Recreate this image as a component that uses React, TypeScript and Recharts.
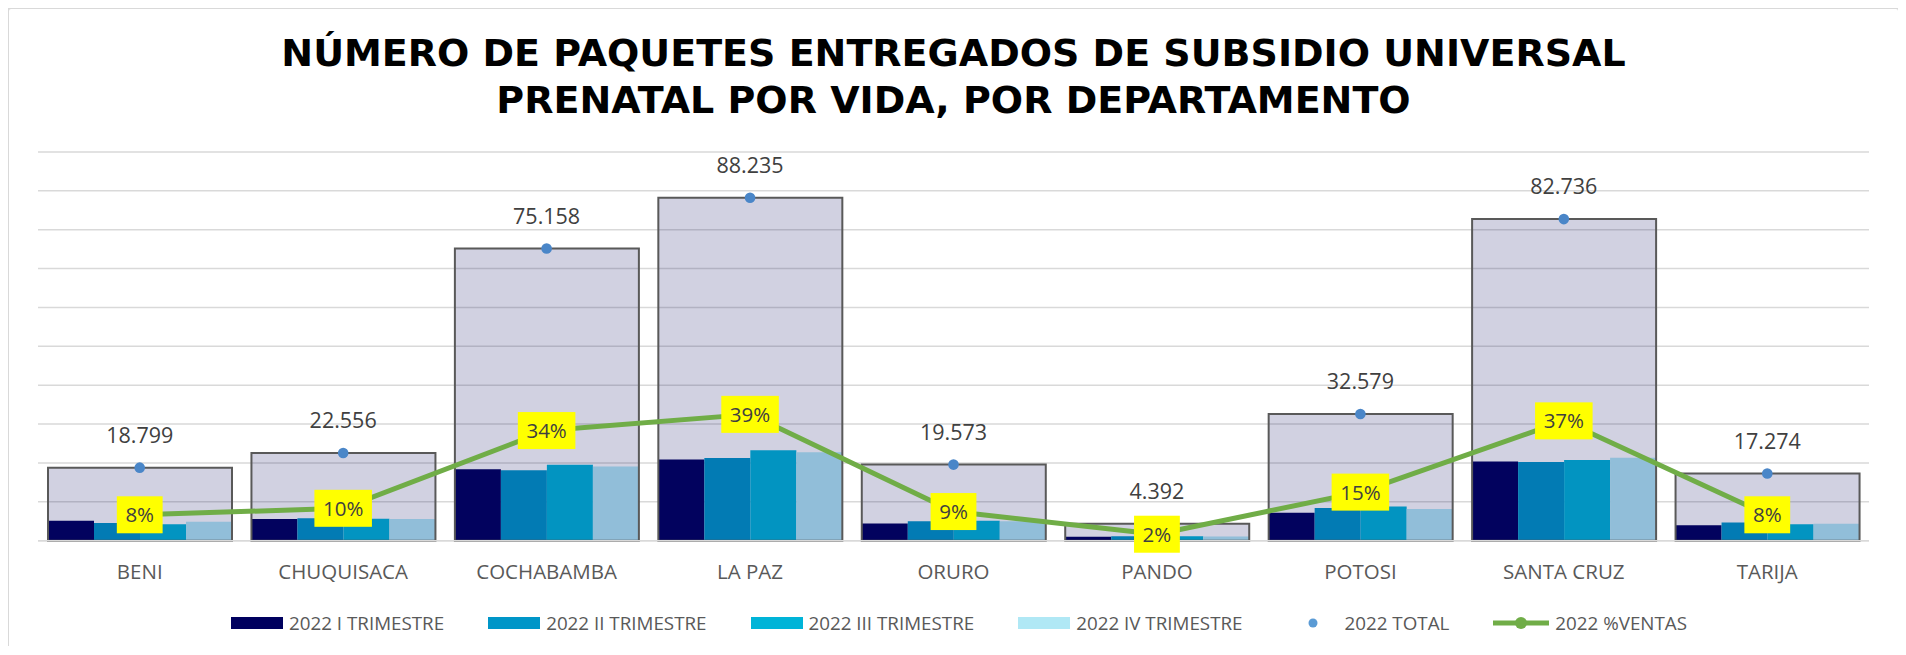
import { Bar, CartesianGrid, ComposedChart, LabelList, Line, XAxis, YAxis } from "recharts";

// departamentos y valores
const departments = ["BENI", "CHUQUISACA", "COCHABAMBA", "LA PAZ", "ORURO", "PANDO", "POTOSI", "SANTA CRUZ", "TARIJA"];
const q1 = [5150, 5600, 18400, 20900, 4400, 1000, 7200, 20400, 4000];
const q2 = [4550, 5750, 18100, 21250, 5000, 1150, 8400, 20250, 4700];
const q3 = [4200, 5650, 19550, 23300, 5150, 1150, 8800, 20750, 4200];
const q4 = [4899, 5556, 19108, 22785, 5023, 1092, 8179, 21336, 4374];
const totals = [18799, 22556, 75158, 88235, 19573, 4392, 32579, 82736, 17274];
const shares = [0.08, 0.1, 0.34, 0.39, 0.09, 0.02, 0.15, 0.37, 0.08];
const yTicks = [0, 10000, 20000, 30000, 40000, 50000, 60000, 70000, 80000, 90000, 100000];

const QCOLORS = ["#00005e", "#0096c8", "#00b4d8", "#b0e8f5"];
const QNAMES = ["2022 I TRIMESTRE", "2022 II TRIMESTRE", "2022 III TRIMESTRE", "2022 IV TRIMESTRE"];
const DOT = "#4a86c8";
const GREEN = "#70ad47";
const FONT = "'Open Sans', sans-serif";

const data = departments.map((name, i) => ({
  name, q1: q1[i], q2: q2[i], q3: q3[i], q4: q4[i], total: totals[i], share: shares[i],
}));

const fmtThousands = (v: number) => String(v).replace(/\B(?=(\d{3})+(?!\d))/g, ".");

function TotalLabel(p: any) {
  return (
    <text x={p.x} y={p.y - 25} textAnchor="middle" fill="#404040" fontSize={21.5} fontFamily={FONT}>
      {fmtThousands(p.value)}
    </text>
  );
}

function ShareLabel(p: any) {
  const txt = `${Math.round(p.value * 100)}%`;
  const fs = 20.5;
  const tw = txt.replace("%", "").length * 0.572 * fs + 0.833 * fs;
  const w = tw + 17, h = 37;
  return (
    <g>
      <rect x={p.x - w / 2} y={p.y - h / 2} width={w} height={h} fill="#ffff00" />
      <text x={p.x} y={p.y + 7.5} textAnchor="middle" fill="#404040" fontSize={fs} fontFamily={FONT}>{txt}</text>
    </g>
  );
}

function LegendRow() {
  const text = { fontFamily: FONT, fontSize: 18.8, color: "#595959", marginLeft: 6, marginRight: 44, whiteSpace: "nowrap" as const };
  return (
    <div style={{ position: "absolute", left: 224, top: 603, height: 26, display: "flex", alignItems: "center" }}>
      {QNAMES.map((n, i) => (
        <div key={n} style={{ display: "flex", alignItems: "center" }}>
          <div style={{ width: 52, height: 12, background: QCOLORS[i] }} />
          <span style={text}>{n}</span>
        </div>
      ))}
      <div style={{ display: "flex", alignItems: "center" }}>
        <svg width={52} height={12}><circle cx={26} cy={6} r={4.5} fill="#5b9bd5" /></svg>
        <span style={text}>2022 TOTAL</span>
      </div>
      <div style={{ display: "flex", alignItems: "center" }}>
        <svg width={56} height={14}>
          <line x1={0} y1={7} x2={56} y2={7} stroke={GREEN} strokeWidth={5} />
          <circle cx={28} cy={7} r={6} fill={GREEN} />
        </svg>
        <span style={text}>2022 %VENTAS</span>
      </div>
    </div>
  );
}

export default function App() {
  return (
    <div style={{ position: "relative", width: 1893, height: 639, margin: "-1px 0 0 -1px", overflow: "hidden", background: "#fff" }}>
      <div style={{ position: "absolute", left: 0, top: 0, width: 1893, height: 700, boxSizing: "border-box", border: "2px solid #d9d9d9", borderRadius: 4 }} />
      <div style={{
        position: "absolute", left: 0, top: 23, width: 1893, textAlign: "center",
        fontFamily: "'DejaVu Sans', Verdana, sans-serif", fontWeight: 700, fontSize: 38, lineHeight: "46.7px", color: "#000",
      }}>
        NÚMERO DE PAQUETES ENTREGADOS DE SUBSIDIO UNIVERSAL<br />PRENATAL POR VIDA, POR DEPARTAMENTO
      </div>
      <div style={{ position: "absolute", left: 0, top: 0 }}>
        <ComposedChart width={1893} height={639} data={data} margin={{ top: 145, right: 31, bottom: 65.3, left: 31 }}
          barCategoryGap="4.8%" barGap={0}>
          <CartesianGrid xAxisId="main" yAxisId="left" vertical={false} stroke="#d9d9d9" strokeWidth={1.5} horizontalValues={yTicks} />
          <XAxis xAxisId="main" dataKey="name" height={40} tickLine={false} tickMargin={18} interval={0}
            axisLine={{ stroke: "#d9d9d9", strokeWidth: 1.5 }}
            tick={{ fill: "#595959", fontSize: 20.5, fontFamily: FONT }} />
          <XAxis xAxisId="total" dataKey="name" hide />
          <YAxis yAxisId="left" hide domain={[0, 100000]} ticks={yTicks} />
          <YAxis yAxisId="pct" hide orientation="right" domain={[0, 1.2]} />
          <Bar xAxisId="main" yAxisId="left" dataKey="q1" barSize={46} fill={QCOLORS[0]} isAnimationActive={false} />
          <Bar xAxisId="main" yAxisId="left" dataKey="q2" barSize={46} fill={QCOLORS[1]} isAnimationActive={false} />
          <Bar xAxisId="main" yAxisId="left" dataKey="q3" barSize={46} fill={QCOLORS[2]} isAnimationActive={false} />
          <Bar xAxisId="main" yAxisId="left" dataKey="q4" barSize={46} fill={QCOLORS[3]} isAnimationActive={false} />
          <Bar xAxisId="total" yAxisId="left" dataKey="total" barSize={184} fill="#0b0b5f" fillOpacity={0.19}
            stroke="#595959" strokeWidth={2} isAnimationActive={false} />
          <Line xAxisId="main" yAxisId="left" dataKey="total" stroke="none" strokeWidth={0}
            dot={{ r: 5.3, fill: DOT, stroke: "none" }} activeDot={false} isAnimationActive={false}>
            <LabelList dataKey="total" content={TotalLabel} />
          </Line>
          <Line xAxisId="main" yAxisId="pct" dataKey="share" stroke={GREEN} strokeWidth={5} dot={false}
            activeDot={false} strokeLinejoin="round" isAnimationActive={false}>
            <LabelList dataKey="share" content={ShareLabel} />
          </Line>
        </ComposedChart>
      </div>
      <LegendRow />
    </div>
  );
}
